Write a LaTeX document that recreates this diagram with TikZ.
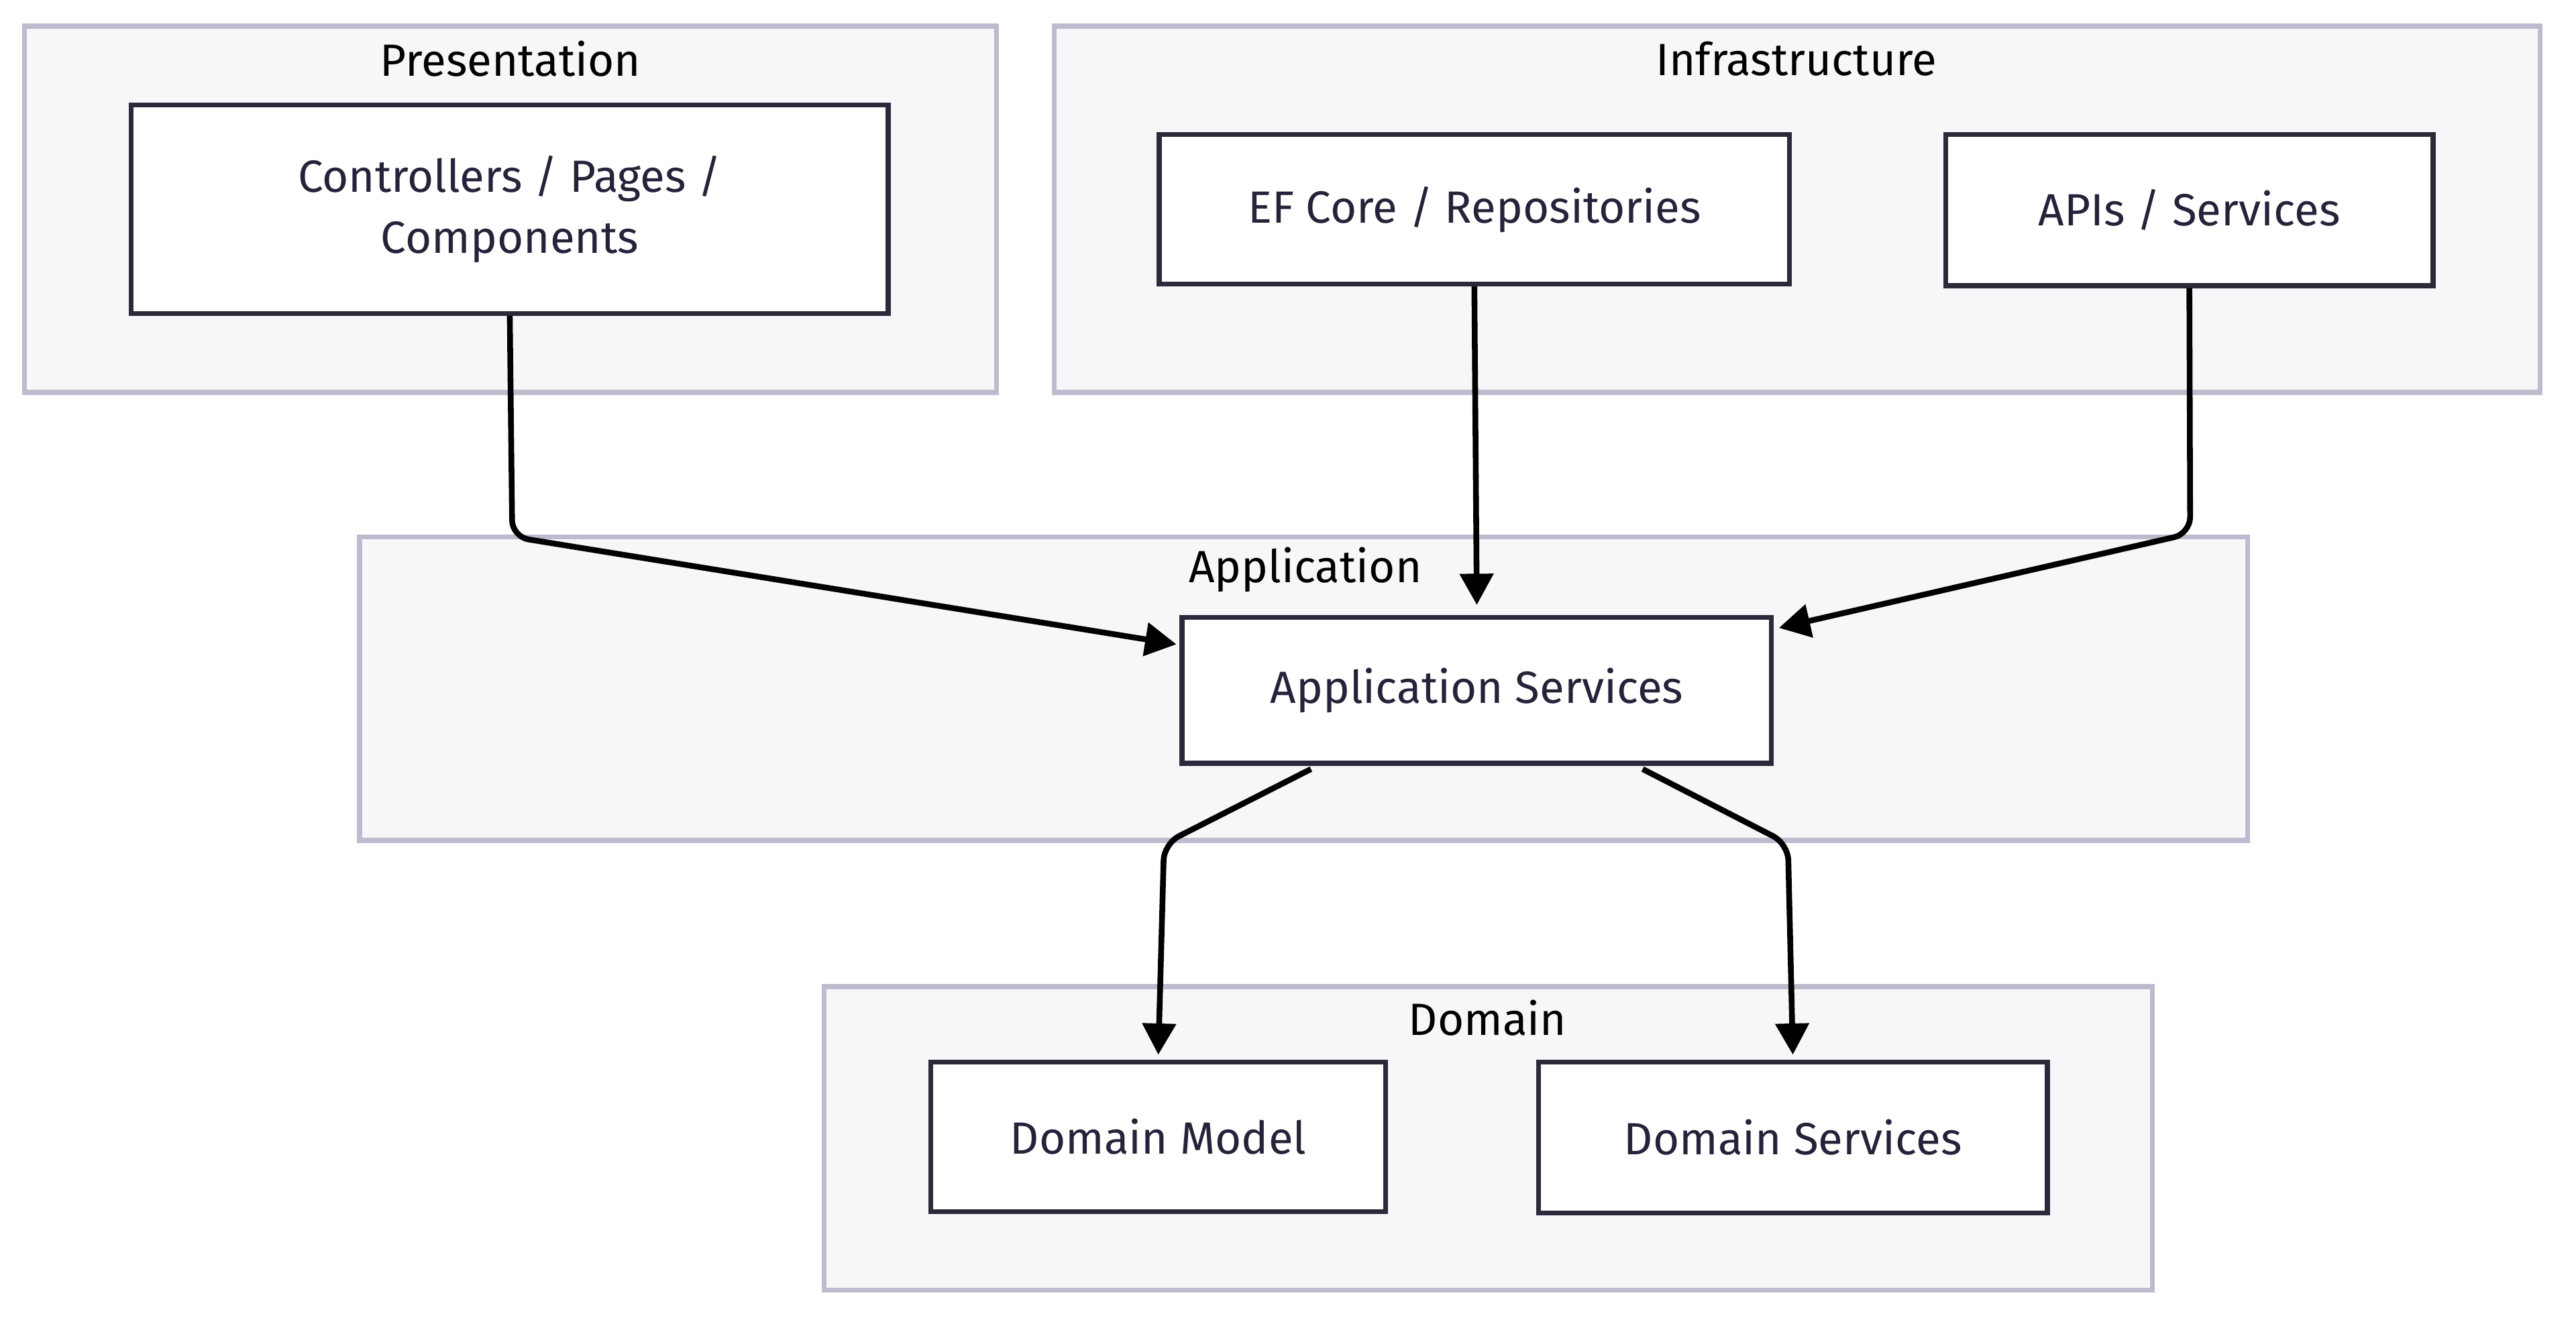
\documentclass[tikz,border=0pt]{standalone}
\usepackage{fontspec}
\setmainfont{Fira Sans}
\usepackage{xcolor}
\usetikzlibrary{arrows.meta}

\definecolor{layerfill}{HTML}{F7F7FA}
\definecolor{layerline}{HTML}{BDBBCE}
\definecolor{boxline}{HTML}{2B2A3A}
\definecolor{boxtext}{HTML}{25233A}

\tikzset{
  layer/.style={draw=layerline, fill=layerfill, line width=3pt, inner sep=0pt},
  layerlabel/.style={inner sep=0.75pt, text=black, font=\fontsize{27.5}{31}\selectfont},
  part/.style={draw=boxline, fill=white, line width=3pt, inner sep=0pt, align=center, text=boxtext, font=\fontsize{27.5}{37}\selectfont},
  dep/.style={line width=3.5pt, black, rounded corners=10pt, -{Triangle[length=19pt,width=20pt]}}
}

\begin{document}
\begin{tikzpicture}[x=1pt,y=1pt,yscale=-1,xscale=1]
\useasboundingbox (0,0) rectangle (1569,806.2);

%Shape: Layers
\node[layer, minimum width=592pt, minimum height=223pt] (presentation) at (311,127.5) {};
\node[layer, minimum width=905pt, minimum height=223pt] (infrastructure) at (1094.5,127.5) {};
\node[layer, minimum width=1150pt, minimum height=185pt] (application) at (794,419.5) {};
\node[layer, minimum width=809pt, minimum height=185pt] (domain) at (906.5,693.5) {};

% Layer titles
\node[layerlabel] (presentationlbl) at (311,36) {Presentation};
\node[layerlabel] (infrastructurelbl) at (1094,36) {Infrastructure};
\node[layerlabel] (applicationlbl) at (795,347) {Application};
\node[layerlabel] (domainlbl) at (906,620) {Domain};

%Shape: Parts
\node[part, minimum width=461pt, minimum height=127pt] (ctrl) at (310.5,127.5) {Controllers / Pages /\\Components};
\node[part, minimum width=384pt, minimum height=91pt] (efcore) at (898,127.5) {EF Core / Repositories};
\node[part, minimum width=297pt, minimum height=92pt] (apis) at (1333.5,128) {APIs / Services};
\node[part, minimum width=359pt, minimum height=89pt] (appsvc) at (899.5,420.5) {Application Services};
\node[part, minimum width=277pt, minimum height=91pt] (dmodel) at (705.5,692.5) {Domain Model};
\node[part, minimum width=310pt, minimum height=92pt] (dsvc) at (1092,693) {Domain Services};

% Bends
\coordinate (ctrlbend) at (312,327);
\coordinate (apisbend) at (1334,325);
\coordinate (dmodelbend) at (709,514);
\coordinate (dsvcbend) at (1089,514);

%Dependencies
\draw[dep] (ctrl.south) -- (ctrlbend) -- ([yshift=-28pt,xshift=-2pt]appsvc.west);
\draw[dep] (efcore.south) -- ([yshift=-6pt]appsvc.north);
\draw[dep] (apis.south) -- (apisbend) -- ([yshift=-38pt,xshift=3pt]appsvc.east);
\draw[dep] ([xshift=-101pt,yshift=2pt]appsvc.south) -- (dmodelbend) -- ([yshift=-3pt]dmodel.north);
\draw[dep] ([xshift=101pt,yshift=2pt]appsvc.south) -- (dsvcbend) -- ([yshift=-3pt]dsvc.north);

\end{tikzpicture}
\end{document}
